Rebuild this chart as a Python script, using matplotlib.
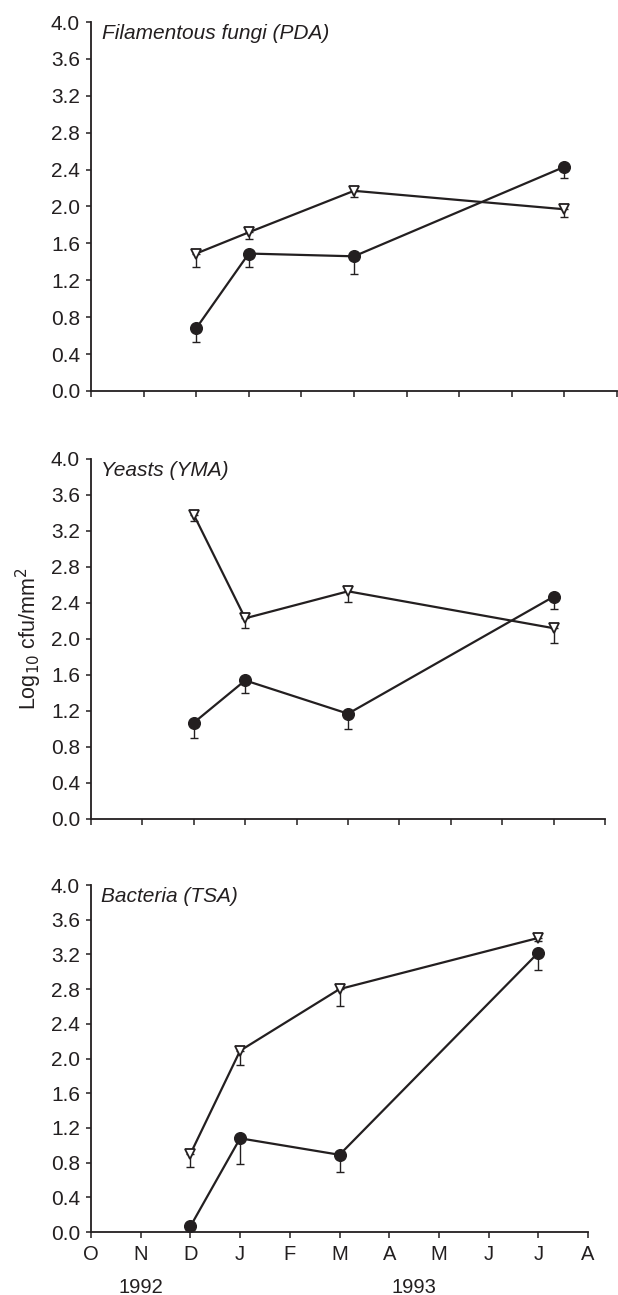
import matplotlib.pyplot as plt

plt.rcParams['font.family'] = ['Liberation Sans', 'DejaVu Sans']

# --- Data ---
month_labels = ["O", "N", "D", "J", "F", "M", "A", "M", "J", "J", "A"]
sample_month = [2, 3, 5, 9]  # Dec 92, Jan, Mar, Jul 93 (months after Oct 1992)

panel_titles = ["Filamentous fungi (PDA)", "Yeasts (YMA)", "Bacteria (TSA)"]

# filled circles
circle_mean = [
    [0.68, 1.49, 1.46, 2.43],
    [1.07, 1.54, 1.17, 2.47],
    [0.065, 1.08, 0.89, 3.22],
]
circle_low = [
    [0.53, 1.34, 1.27, 2.31],
    [0.90, 1.40, 1.00, 2.33],
    [0.065, 0.78, 0.69, 3.02],
]
# open triangles
tri_mean = [
    [1.49, 1.72, 2.17, 1.97],
    [3.38, 2.23, 2.53, 2.12],
    [0.90, 2.09, 2.80, 3.39],
]
tri_low = [
    [1.34, 1.65, 2.10, 1.89],
    [3.31, 2.12, 2.41, 1.96],
    [0.75, 1.93, 2.61, 3.36],
]

yticks = [0.0, 0.4, 0.8, 1.2, 1.6, 2.0, 2.4, 2.8, 3.2, 3.6, 4.0]

ink = "#231f20"
W, H = 618, 1295
fig = plt.figure(figsize=(W / 100, H / 100), dpi=100)

# axes boxes in pixels: left, top, right, bottom
boxes = [(91, 22, 617, 391), (91, 459, 605, 819), (91, 885, 588, 1232)]

axes = []
for i, (l, t, r, b) in enumerate(boxes):
    ax = fig.add_axes([l / W, 1 - b / H, (r - l) / W, (b - t) / H])
    axes.append(ax)

    ax.plot(sample_month, tri_mean[i], '-', color=ink, lw=1.6, zorder=2)
    ax.plot(sample_month, circle_mean[i], '-', color=ink, lw=1.6, zorder=2)

    t_err = [[m - lo for m, lo in zip(tri_mean[i], tri_low[i])], [0] * 4]
    c_err = [[m - lo for m, lo in zip(circle_mean[i], circle_low[i])], [0] * 4]
    ax.errorbar(sample_month, tri_mean[i], yerr=t_err, fmt='none', ecolor=ink,
                elinewidth=1.0, capsize=2.8, capthick=1.0, zorder=1, clip_on=False)
    ax.errorbar(sample_month, circle_mean[i], yerr=c_err, fmt='none', ecolor=ink,
                elinewidth=1.0, capsize=2.8, capthick=1.0, zorder=1, clip_on=False)

    ax.plot(sample_month, tri_mean[i], 'v', ms=7.8, mfc='white', mec=ink, mew=1.3,
            ls='none', zorder=3, clip_on=False)
    ax.plot(sample_month, circle_mean[i], 'o', ms=8.4, mfc=ink, mec=ink,
            ls='none', zorder=3, clip_on=False)

    ax.set_xlim(0, 10)
    ax.set_ylim(0, 4.0)
    ax.set_yticks(yticks)
    ax.set_yticklabels([f"{v:.1f}" for v in yticks])
    ax.set_xticks(range(len(month_labels)))
    if i == 2:
        ax.set_xticklabels(month_labels)
    else:
        ax.set_xticklabels([])

    for s in ['top', 'right']:
        ax.spines[s].set_visible(False)
    for s in ['left', 'bottom']:
        ax.spines[s].set_linewidth(1.3)
        ax.spines[s].set_color(ink)
    ax.tick_params(axis='y', direction='out', length=3.5, width=1.1, colors=ink,
                   labelsize=15, labelcolor=ink, pad=4.5)
    ax.tick_params(axis='x', direction='out', length=4.5, width=1.1, colors=ink,
                   labelsize=14.5, labelcolor=ink, pad=5)

    ax.text(0.02, 0.995, panel_titles[i], transform=ax.transAxes, ha='left',
            va='top', fontsize=15, style='italic', color=ink)

axes[1].set_ylabel("Log$_{10}$ cfu/mm$^2$", fontsize=15.5, color=ink, labelpad=5)

# year labels below the month letters
bax = axes[2]
trans = bax.get_xaxis_transform()
bax.text(1.0, -0.159, "1992", transform=trans, ha='center', va='center',
         fontsize=14.5, color=ink)
bax.text(6.5, -0.159, "1993", transform=trans, ha='center', va='center',
         fontsize=14.5, color=ink)

fig.savefig("out.png", dpi=100)
